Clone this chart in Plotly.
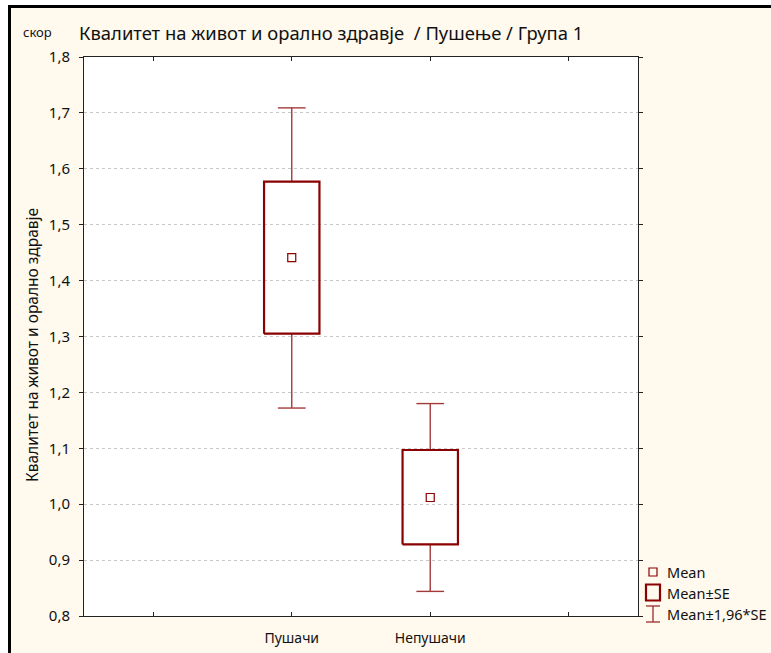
import plotly.graph_objects as go

# Group statistics: quality of life and oral health score by smoking status
categories = ["Пушачи", "Непушачи"]
means = [1.441, 1.012]
se_low = [1.305, 0.928]      # Mean - SE
se_high = [1.577, 1.097]     # Mean + SE
ci_low = [1.172, 0.844]      # Mean - 1,96*SE
ci_high = [1.709, 1.180]     # Mean + 1,96*SE

tick_positions = [0, 1, 2, 3]
tick_labels = ["", "Пушачи", "Непушачи", ""]
cat_pos = [1, 2]

BOX_COLOR = "#8B0000"
WHISKER_COLOR = "#A33A3A"
FONT = "Noto Sans"

W, H = 771, 653
ML, MR, MT, MB = 84, 133, 57, 37
PW, PH = W - ML - MR, H - MT - MB


def px(x):
    return (x - ML) / PW


def py(y):
    return (H - MB - y) / PH


fig = go.Figure()

half_box = 0.2
half_cap = 0.1
for i, c in enumerate(cat_pos):
    # whiskers (Mean ± 1,96*SE) with caps
    fig.add_trace(go.Scatter(
        x=[c, c, None, c, c, None, c - half_cap, c + half_cap, None, c - half_cap, c + half_cap],
        y=[se_high[i], ci_high[i], None, se_low[i], ci_low[i], None,
           ci_high[i], ci_high[i], None, ci_low[i], ci_low[i]],
        mode="lines", line=dict(color=WHISKER_COLOR, width=1.4),
        hoverinfo="skip", showlegend=False))
    # box (Mean ± SE)
    fig.add_trace(go.Scatter(
        x=[c - half_box, c + half_box, c + half_box, c - half_box, c - half_box],
        y=[se_low[i], se_low[i], se_high[i], se_high[i], se_low[i]],
        mode="lines", line=dict(color=BOX_COLOR, width=2.2),
        hoverinfo="skip", showlegend=False))

# means
fig.add_trace(go.Scatter(
    x=cat_pos, y=means, mode="markers",
    marker=dict(symbol="square-open", size=8, color=BOX_COLOR, line=dict(width=1.2)),
    text=categories, showlegend=False))

shapes = []
# white strips outside the frame, black frame edges
shapes.append(dict(type="rect", xref="paper", yref="paper", x0=px(-20), x1=px(8), y0=py(700), y1=py(-20),
                   fillcolor="white", line_width=0, layer="above"))
shapes.append(dict(type="rect", xref="paper", yref="paper", x0=px(-20), x1=px(800), y0=py(5), y1=py(-20),
                   fillcolor="white", line_width=0, layer="above"))
shapes.append(dict(type="rect", xref="paper", yref="paper", x0=px(8), x1=px(11), y0=py(700), y1=py(5),
                   fillcolor="black", line_width=0, layer="above"))
shapes.append(dict(type="rect", xref="paper", yref="paper", x0=px(8), x1=px(800), y0=py(8), y1=py(5),
                   fillcolor="black", line_width=0, layer="above"))

# legend symbols
lx = 653
shapes.append(dict(type="rect", xref="paper", yref="paper", x0=px(lx - 4), x1=px(lx + 4), y0=py(576), y1=py(568),
                   line=dict(color=BOX_COLOR, width=1.2), fillcolor="rgba(0,0,0,0)"))
shapes.append(dict(type="rect", xref="paper", yref="paper", x0=px(646), x1=px(660), y0=py(600.5), y1=py(584.5),
                   line=dict(color=BOX_COLOR, width=2.2), fillcolor="rgba(0,0,0,0)"))
shapes.append(dict(type="line", xref="paper", yref="paper", x0=px(lx), x1=px(lx), y0=py(622), y1=py(606),
                   line=dict(color=WHISKER_COLOR, width=1.4)))
shapes.append(dict(type="line", xref="paper", yref="paper", x0=px(646), x1=px(660), y0=py(606), y1=py(606),
                   line=dict(color=WHISKER_COLOR, width=1.4)))
shapes.append(dict(type="line", xref="paper", yref="paper", x0=px(646), x1=px(660), y0=py(622), y1=py(622),
                   line=dict(color=WHISKER_COLOR, width=1.4)))

annotations = [
    dict(text="Квалитет на живот и орално здравје  / Пушење / Група 1", x=px(77), y=py(33),
         xanchor="left", yanchor="middle", font=dict(size=18.4, color="#111111", family=FONT)),
    dict(text="скор", x=px(21), y=py(32), xanchor="left", yanchor="middle",
         font=dict(size=13, color="#111111", family=FONT)),
    dict(text="Квалитет на живот и орално здравје", x=px(32), y=py(345), textangle=-90,
         xanchor="center", yanchor="middle", font=dict(size=15.5, color="#111111", family=FONT)),
    dict(text="Mean", x=px(665), y=py(572), xanchor="left", yanchor="middle",
         font=dict(size=14.5, color="#111111", family=FONT)),
    dict(text="Mean±SE", x=px(665), y=py(593), xanchor="left", yanchor="middle",
         font=dict(size=14.5, color="#111111", family=FONT)),
    dict(text="Mean±1,96*SE", x=px(665), y=py(614), xanchor="left", yanchor="middle",
         font=dict(size=14.5, color="#111111", family=FONT)),
]
for a in annotations:
    a.update(xref="paper", yref="paper", showarrow=False)

fig.update_layout(
    width=W, height=H,
    margin=dict(l=ML, r=MR, t=MT, b=MB, pad=0, autoexpand=False),
    paper_bgcolor="#FFF9EE",
    plot_bgcolor="white",
    separators=",.",
    showlegend=False,
    shapes=shapes,
    annotations=annotations,
    font=dict(family=FONT, color="#111111"),
    xaxis=dict(
        range=[-0.5, 3.5], tickvals=tick_positions, ticktext=tick_labels,
        showgrid=False, zeroline=False, showline=True, linecolor="#222222", linewidth=1,
        mirror="ticks", ticks="inside", ticklen=4, tickcolor="#222222", automargin=False,
        tickfont=dict(size=14, family=FONT, color="#111111"), ticklabelstandoff=9,
    ),
    yaxis=dict(
        range=[0.8, 1.8], dtick=0.1, tick0=0.8, tickformat=".1f",
        showgrid=True, gridcolor="#C8C8C8", griddash="dot", gridwidth=1,
        zeroline=False, showline=True, linecolor="#222222", linewidth=1,
        mirror="ticks", ticks="outside", ticklen=4, tickcolor="#222222", automargin=False,
        tickfont=dict(size=15, family=FONT, color="#111111"), ticklabelstandoff=6,
    ),
)

fig.write_html("out.html")
